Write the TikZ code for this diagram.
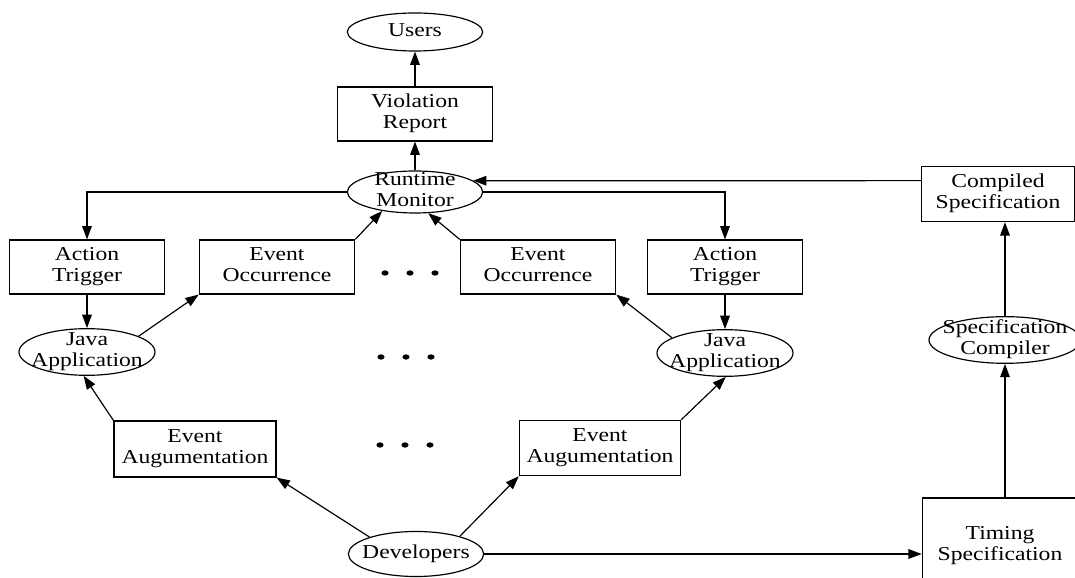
\documentclass[tikz,border=0pt]{standalone}
\usepackage{fontspec}
\setmainfont{Liberation Serif}
\usetikzlibrary{shapes.geometric,arrows.meta}
\tikzstyle{flow} = [x = 0.015cm, y = -0.015cm, line width = .5pt, font = \fontsize{8.4}{9}\selectfont]
\tikzstyle{boxStyle} = [draw, rectangle, minimum width = 2.33cm, minimum height = .81cm, inner sep = 0pt]
\tikzstyle{ovalStyle} = [draw, ellipse, minimum width = 2.03cm, minimum height = .68cm, inner xsep = -.3cm, inner ysep = -.12cm]
\tikzstyle{arrowLine} = [-{Triangle[length = 2mm, width = 1.45mm]}]
\tikzstyle{dotStyle} = [fill = black]
\newcommand{\lbl}[1]{\scalebox{1.2}[1]{\begin{tabular}{@{}c@{}}#1\end{tabular}}}
\newcommand{\threeDots}[2]{
  \foreach \dx in {0,25,50} {
    \fill [dotStyle] (#1 + \dx, #2) ellipse [x radius = .053cm, y radius = .04cm];
  }
}

\begin{document}
\begin{tikzpicture}[flow]
      \clip (0,0) rectangle (1075,578);

      \node [ovalStyle, minimum height = .57cm] (users) at (415,32) {\lbl{Users}};
      \node [boxStyle] (report) at (415,114) {\lbl{Violation\\Report}};
      \node [ovalStyle, minimum height = .63cm] (monitor) at (415,192) {\lbl{Runtime\\Monitor}};

      \node [boxStyle] (triggerLeft) at (87,267) {\lbl{Action\\Trigger}};
      \node [boxStyle] (occurLeft) at (277,267) {\lbl{Event\\Occurrence}};
      \node [boxStyle] (occurRight) at (538,267) {\lbl{Event\\Occurrence}};
      \node [boxStyle] (triggerRight) at (725,267) {\lbl{Action\\Trigger}};

      \node [ovalStyle, minimum width = 2.04cm, minimum height = .7cm] (javaLeft) at (87,352) {\lbl{Java\\Application}};
      \node [ovalStyle, minimum width = 2.04cm, minimum height = .7cm] (javaRight) at (725,353) {\lbl{Java\\Application}};

      \node [boxStyle, minimum width = 2.43cm, minimum height = .84cm] (augLeft) at (195,449) {\lbl{Event\\Augumentation}};
      \node [boxStyle, minimum width = 2.42cm, minimum height = .83cm] (augRight) at (600,448) {\lbl{Event\\Augumentation}};

      \node [ovalStyle, minimum height = .675cm] (developers) at (416,554) {\lbl{Developers}};

      \node [boxStyle, minimum width = 2.3cm, minimum height = .83cm] (compiled) at (998,194) {\lbl{Compiled\\Specification}};
      \node [ovalStyle, minimum width = 2.28cm, minimum height = .7cm] (compiler) at (1005,340) {\lbl{Specification\\Compiler}};
      \node [boxStyle, minimum width = 2.33cm, minimum height = 1.44cm] (timing) at (1000,546) {\lbl{Timing\\Specification}};

      \threeDots{385}{273}
      \threeDots{381}{357}
      \threeDots{380}{445}

      \draw [arrowLine] (monitor) -- (report);
      \draw [arrowLine] (report) -- (users);
      \draw [arrowLine] ([yshift = .2cm]compiled.west) -- (monitor.11);
      \draw [arrowLine] (monitor.west) -| (triggerLeft.north);
      \draw [arrowLine] (monitor.east) -| (triggerRight.north);

      \draw [arrowLine] (triggerLeft) -- (javaLeft);
      \draw [arrowLine] (triggerRight) -- (javaRight);
      \draw [arrowLine] (javaLeft.17) -- (occurLeft.south west);
      \draw [arrowLine] (javaRight.164) -- (occurRight.south east);
      \draw [arrowLine] (occurLeft.north east) -- (monitor.210);
      \draw [arrowLine] (occurRight.north west) -- (monitor.302);

      \draw [arrowLine] (augLeft.north west) -- (javaLeft.262);
      \draw [arrowLine] (augRight.north east) -- (javaRight.272);
      \draw [arrowLine] (developers.160) -- (augLeft.south east);
      \draw [arrowLine] (developers.22) -- (augRight.south west);

      \draw [arrowLine] (developers.east) -- (developers.east -| timing.west);
      \draw [arrowLine] (timing.north -| compiler.south) -- (compiler.south);
      \draw [arrowLine] (compiler.north) -- (compiler.north |- compiled.south);
    \end{tikzpicture}
\end{document}
